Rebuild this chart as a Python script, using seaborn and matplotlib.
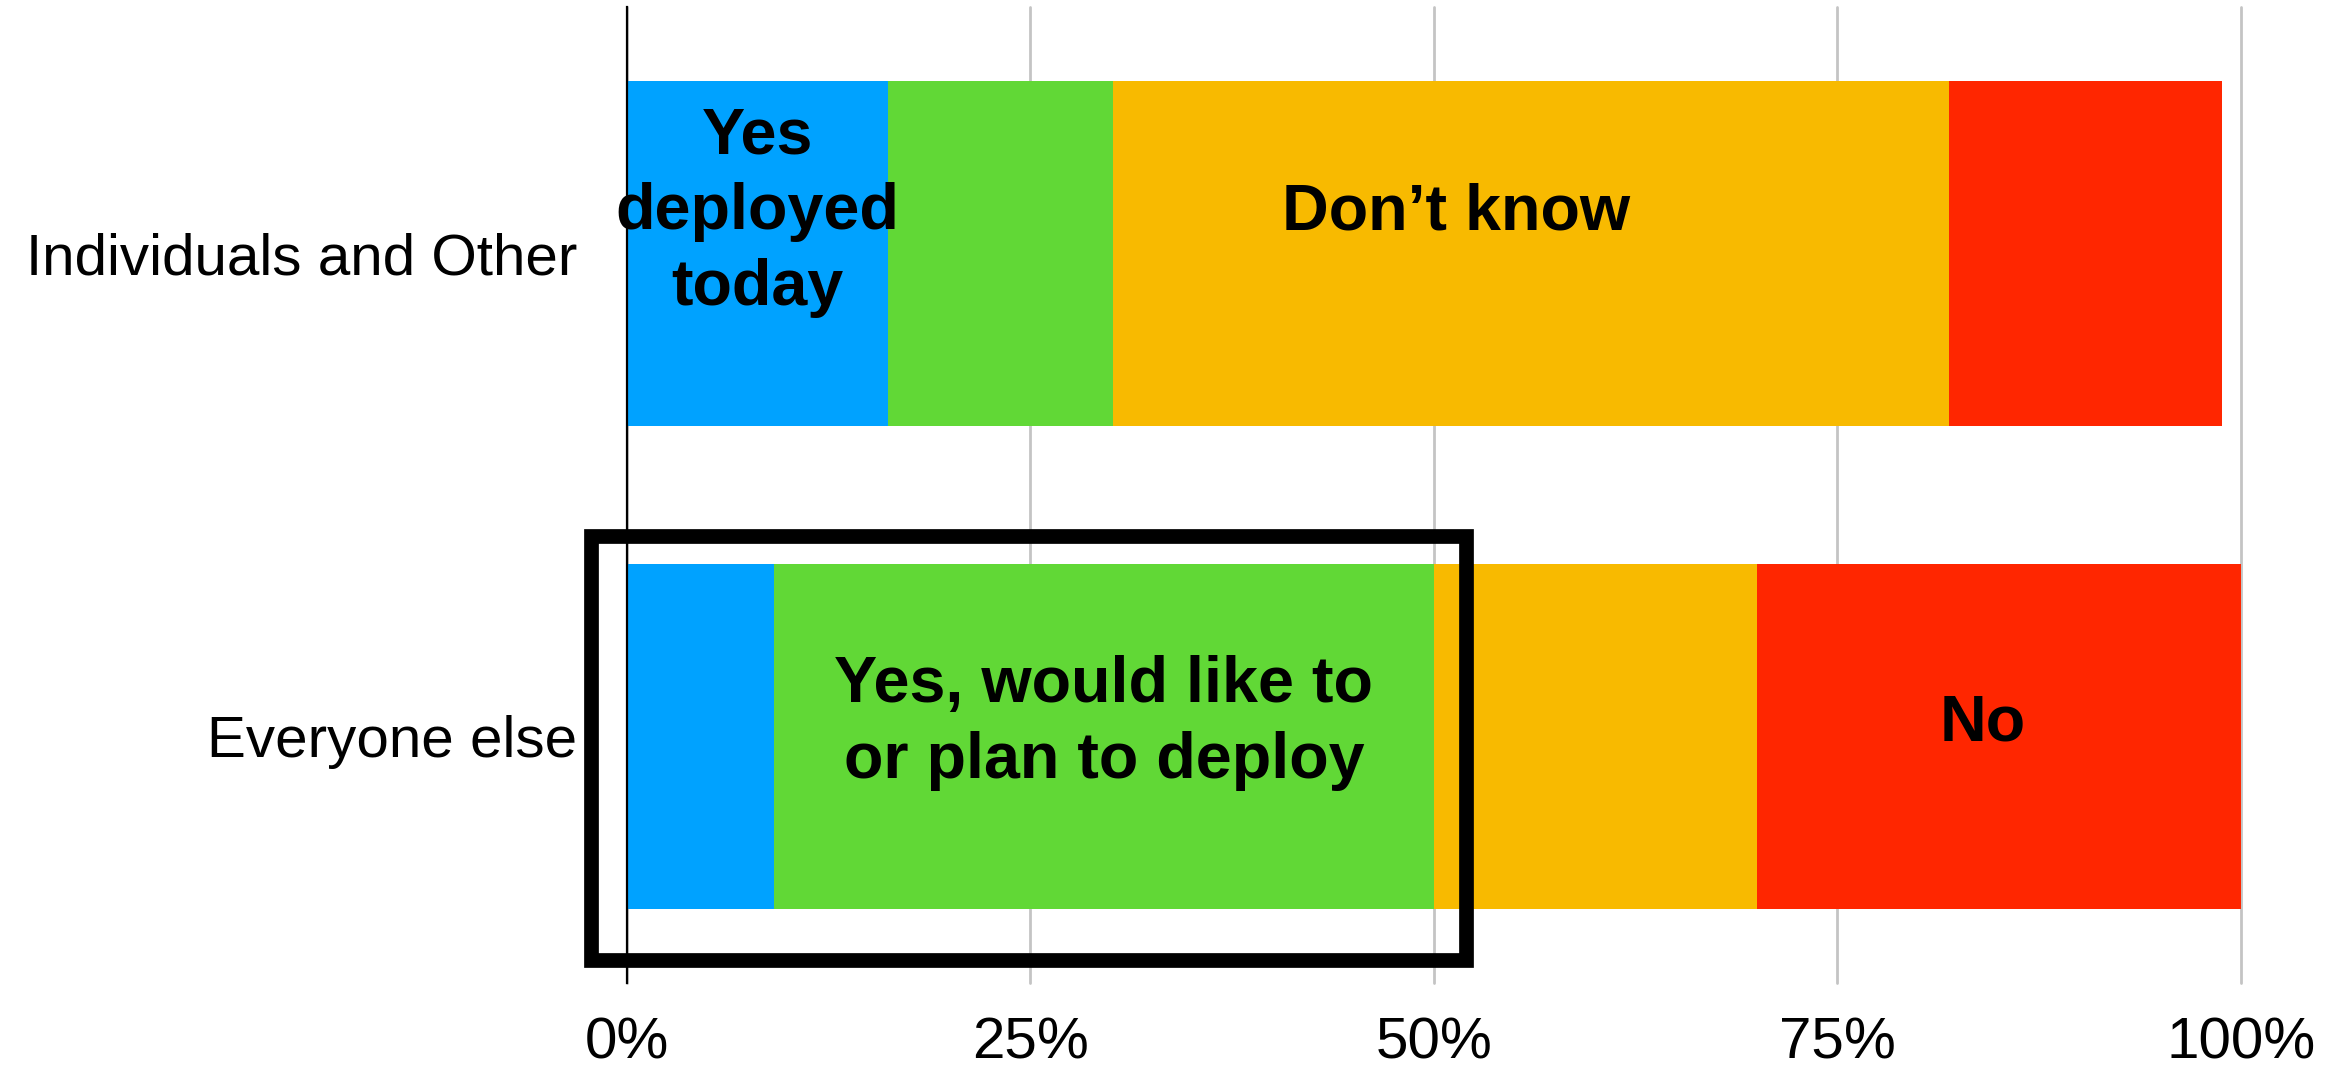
import matplotlib
matplotlib.use("Agg")
import matplotlib.pyplot as plt
import matplotlib.patches as mpatches
import seaborn as sns
import pandas as pd
import numpy as np

# ---- data ----
categories = ["Individuals and Other", "Everyone else"]
series_names = ["Yes deployed today", "Yes, would like to or plan to deploy", "Don't know", "No"]
yes_deployed = [16.2, 9.1]
yes_plan = [13.9, 40.9]
dont_know = [51.8, 20.0]
no = [16.9, 30.0]
series_colors = ["#00A2FF", "#61D836", "#F8BA00", "#FF2600"]
x_ticks = [0, 25, 50, 75, 100]
x_tick_labels = ["0%", "25%", "50%", "75%", "100%"]

sns.set_style("white")
plt.rcParams["font.family"] = ["Liberation Sans", "DejaVu Sans"]
plt.rcParams["text.color"] = "black"

fig = plt.figure(figsize=(23.35, 10.76), dpi=100)
ax = fig.add_axes([0.2685, 0.0864, 0.6912, 0.9071])

series = [yes_deployed, yes_plan, dont_know, no]
cum = np.cumsum(np.array(series), axis=0)
bar_w = 0.715
# draw cumulative totals from the last series back to the first (stacking)
for i in range(len(series) - 1, -1, -1):
    df = pd.DataFrame({"category": categories, "value": cum[i]})
    sns.barplot(data=df, x="value", y="category", order=categories, orient="h",
                color=series_colors[i], width=bar_w, saturation=1,
                edgecolor="none", linewidth=0, ax=ax, zorder=2)

ax.set_xlim(0, 100)
ax.set_ylim(1.512, -0.512)
ax.set_xlabel("")
ax.set_ylabel("")
ax.set_xticks(x_ticks)
ax.set_xticklabels(x_tick_labels)
ax.tick_params(axis="x", length=0, pad=24, labelsize=42, labelcolor="black")
ax.tick_params(axis="y", length=0, pad=36, labelsize=42, labelcolor="black")
ax.xaxis.grid(True, color="#c4c4c4", linewidth=2, zorder=0)
for gl in ax.get_xgridlines():
    gl.set_clip_on(False)
ax.yaxis.grid(False)
ax.set_axisbelow(True)
for s in ["top", "right", "bottom"]:
    ax.spines[s].set_visible(False)
ax.spines["left"].set_color("black")
ax.spines["left"].set_linewidth(1.6)
ax.spines["left"].set_zorder(3)

# segment labels
bold_font = ["Liberation Sans", "DejaVu Sans"]
lab_kw = dict(ha="center", va="center", fontsize=46.5, fontweight="bold",
              family=bold_font, color="black", zorder=5, linespacing=1.33)
ax.text(yes_deployed[0] / 2, -0.086, "Yes\ndeployed\ntoday", **lab_kw)
ax.text(51.4, -0.086, "Don\u2019t know", **lab_kw)
ax.text(yes_deployed[1] + yes_plan[1] / 2, 0.973, "Yes, would like to\nor plan to deploy", **lab_kw)
ax.text(84, 0.973, "No", **lab_kw)

# highlight box
box_x0, box_x1 = -2.23, 52.0
box_y0, box_y1 = 0.585, 1.464
rect = mpatches.Rectangle((box_x0, box_y0), box_x1 - box_x0, box_y1 - box_y0,
                          fill=False, edgecolor="black", linewidth=10.6,
                          clip_on=False, zorder=6, joinstyle="miter")
ax.add_patch(rect)

fig.savefig("out.png", dpi=100)
